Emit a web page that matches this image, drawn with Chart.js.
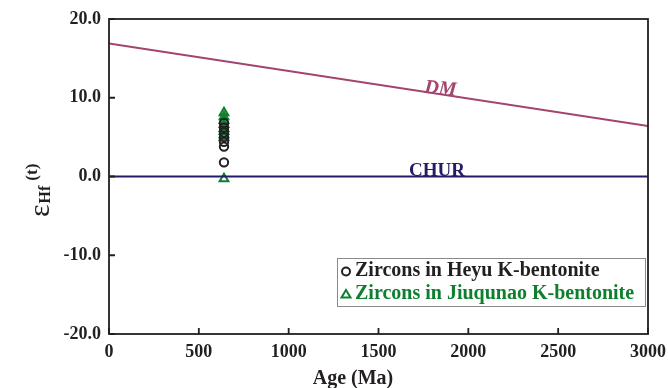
<!DOCTYPE html>
<html><head><meta charset="utf-8">
<script src="https://cdn.jsdelivr.net/npm/chart.js@4.4.0/dist/chart.umd.min.js"></script>
<style>html,body{margin:0;padding:0;background:#fff}#wrap{width:668px;height:388px}</style>
</head><body><div id="wrap"><canvas id="c" width="668" height="388"></canvas></div>
<script>
const xTicks = [0, 500, 1000, 1500, 2000, 2500, 3000];
const yTicks = [-20, -10, 0, 10, 20];
const dmAges = [0, 3000];
const dmValues = [16.9, 6.4];
const churAges = [0, 3000];
const churValues = [0, 0];
const heyuAges = [640, 640, 640, 640, 640, 640, 640];
const heyuValues = [1.8, 3.8, 4.4, 5.0, 5.6, 6.2, 6.8];
const jiuAges = [640, 640, 640, 640, 640, 640, 640, 640, 640];
const jiuValues = [8.1, 7.6, 7.1, 6.6, 6.1, 5.7, 5.3, 5.0, -0.3];
const legendLabels = ["Zircons in Heyu K-bentonite", "Zircons in Jiuqunao K-bentonite"];
const lineLabels = ["DM", "CHUR"];
const xTitle = "Age (Ma)";

const FONT = "'Liberation Serif','Times New Roman',serif";
const INK = '#231f20';
const GREEN = '#0e7f2e';
const DMCOL = '#a3446f';
const CHURCOL = '#231c6b';

const pts = (xs, ys) => xs.map((x, i) => ({x, y: ys[i]}));

const decor = {
  id: 'decor',
  afterDraw(chart) {
    const ctx = chart.ctx, xs = chart.scales.x, ys = chart.scales.y, a = chart.chartArea;
    ctx.save();
    // frame
    ctx.strokeStyle = INK; ctx.lineWidth = 1.8;
    ctx.strokeRect(a.left, a.top, a.right - a.left, a.bottom - a.top);
    // inward ticks
    ctx.beginPath();
    xTicks.forEach(v => { const p = xs.getPixelForValue(v); ctx.moveTo(p, a.bottom); ctx.lineTo(p, a.bottom - 6); });
    yTicks.forEach(v => { const p = ys.getPixelForValue(v); ctx.moveTo(a.left, p); ctx.lineTo(a.left + 6, p); });
    ctx.stroke();
    // DM label
    const t = 1842;
    const dx = xs.getPixelForValue(t), dy = ys.getPixelForValue(dmValues[0] + (dmValues[1]-dmValues[0]) * t/3000);
    const ang = Math.atan2(ys.getPixelForValue(dmValues[1]) - ys.getPixelForValue(dmValues[0]), xs.getPixelForValue(3000) - xs.getPixelForValue(0));
    ctx.save();
    ctx.translate(dx, dy); ctx.rotate(ang * 0.6);
    ctx.fillStyle = DMCOL; ctx.font = `italic bold 20px ${FONT}`;
    ctx.textAlign = 'center'; ctx.textBaseline = 'alphabetic';
    ctx.fillText(lineLabels[0], 0, 0);
    ctx.restore();
    // CHUR label
    ctx.fillStyle = CHURCOL; ctx.font = `bold 19px ${FONT}`;
    ctx.textAlign = 'center'; ctx.textBaseline = 'alphabetic';
    ctx.fillText(lineLabels[1], xs.getPixelForValue(1825), ys.getPixelForValue(0) - 1);
    // x title
    ctx.fillStyle = INK; ctx.font = `bold 20px ${FONT}`;
    ctx.fillText(xTitle, 353, 384);
    // legend box
    ctx.strokeStyle = '#8a8a8a'; ctx.lineWidth = 1;
    ctx.strokeRect(337.5, 258.5, 308, 48);
    ctx.font = `bold 20px ${FONT}`; ctx.textAlign = 'left'; ctx.textBaseline = 'middle';
    ctx.strokeStyle = INK; ctx.lineWidth = 2;
    ctx.beginPath(); ctx.arc(346, 271.5, 4, 0, Math.PI * 2); ctx.stroke();
    ctx.fillStyle = INK; ctx.fillText(legendLabels[0], 355, 271);
    ctx.strokeStyle = GREEN; ctx.lineWidth = 2;
    ctx.beginPath(); ctx.moveTo(346, 290); ctx.lineTo(350.5, 297.5); ctx.lineTo(341.5, 297.5); ctx.closePath(); ctx.stroke();
    ctx.fillStyle = GREEN; ctx.fillText(legendLabels[1], 355, 294);
    // y title: eps Hf (t)
    ctx.save();
    ctx.translate(49, 217);
    ctx.rotate(-Math.PI / 2);
    ctx.fillStyle = INK; ctx.textAlign = 'left'; ctx.textBaseline = 'alphabetic';
    ctx.font = `30px ${FONT}`;
    const e = 'ε'; const we = ctx.measureText(e).width;
    ctx.font = `bold 16px ${FONT}`; const wh = ctx.measureText('Hf').width;
    ctx.font = `30px ${FONT}`; ctx.fillText(e, 0, 0);
    ctx.font = `bold 16px ${FONT}`; ctx.fillText('Hf', we + 1, 1);
    ctx.font = `bold 17px ${FONT}`; ctx.fillText('(t)', we + wh + 6, -12);
    ctx.restore();
    ctx.restore();
  }
};

new Chart(document.getElementById('c'), {
  type: 'scatter',
  data: {
    datasets: [
      { label: lineLabels[0], data: pts(dmAges, dmValues), showLine: true, borderColor: DMCOL, borderWidth: 2, pointRadius: 0 },
      { label: lineLabels[1], data: pts(churAges, churValues), showLine: true, borderColor: CHURCOL, borderWidth: 2.2, pointRadius: 0 },
      { label: legendLabels[0], data: pts(heyuAges, heyuValues), pointStyle: 'circle', pointRadius: 4.2, borderColor: INK, backgroundColor: 'rgba(0,0,0,0)', borderWidth: 2 },
      { label: legendLabels[1], data: pts(jiuAges, jiuValues), pointStyle: 'triangle', pointRadius: 5, borderColor: GREEN, backgroundColor: 'rgba(0,0,0,0)', borderWidth: 2 }
    ]
  },
  options: {
    responsive: false, animation: false,
    layout: { padding: { top: 19, right: 20, left: 0, bottom: 0 } },
    plugins: { legend: { display: false }, tooltip: { enabled: false } },
    scales: {
      x: {
        type: 'linear', min: 0, max: 3000,
        afterBuildTicks: s => { s.ticks = xTicks.map(v => ({value: v})); },
        afterFit: s => { s.height = 54; s.paddingRight = 0; s.paddingLeft = 0; },
        grid: { display: false, drawTicks: false },
        border: { display: false },
        ticks: { color: INK, font: { family: FONT, weight: 'bold', size: 18 }, padding: 8, maxRotation: 0, callback: v => String(v) }
      },
      y: {
        type: 'linear', min: -20, max: 20,
        afterBuildTicks: s => { s.ticks = yTicks.map(v => ({value: v})); },
        afterFit: s => { s.width = 109; s.paddingTop = 0; s.paddingBottom = 0; },
        grid: { display: false, drawTicks: false },
        border: { display: false },
        ticks: { color: INK, font: { family: FONT, weight: 'bold', size: 18 }, padding: 8, callback: v => Number(v).toFixed(1) }
      }
    }
  },
  plugins: [decor]
});
</script></body></html>
